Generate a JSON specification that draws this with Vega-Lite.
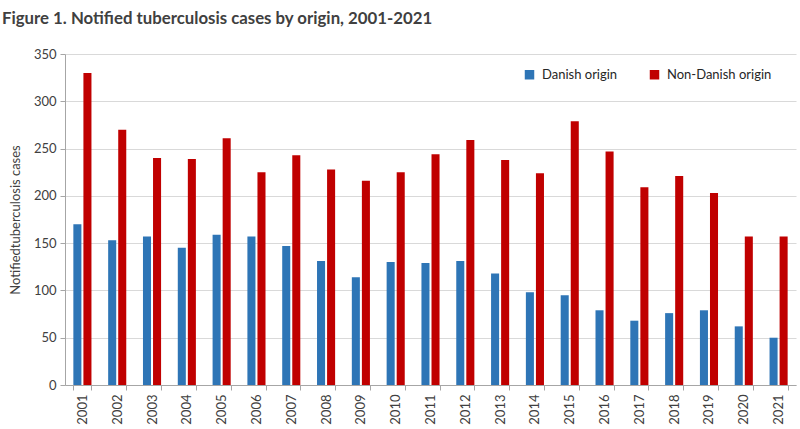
{
  "$schema": "https://vega.github.io/schema/vega-lite/v6.json",
  "width": 731,
  "height": 331,
  "autosize": {"type": "none"},
  "padding": {"left": 65, "top": 54, "right": 4, "bottom": 44},
  "background": "white",
  "config": {
    "font": "Lato",
    "view": {"stroke": null},
    "axis": {
      "labelColor": "#404040",
      "titleColor": "#404040",
      "domainColor": "#a6a6a6",
      "tickColor": "#a6a6a6",
      "gridColor": "#d9d9d9",
      "labelFontSize": 13,
      "titleFontSize": 13,
      "titleFontWeight": "normal"
    }
  },
  "title": {
    "text": "Figure 1. Notified tuberculosis cases by origin, 2001-2021",
    "anchor": "start",
    "frame": "group",
    "dx": -63,
    "offset": 20,
    "fontSize": 16.8,
    "fontWeight": "bold",
    "color": "#404040"
  },
  "data": {
    "values": [
      {"year": "2001", "origin": "Danish origin", "cases": 170},
      {"year": "2001", "origin": "Non-Danish origin", "cases": 330},
      {"year": "2002", "origin": "Danish origin", "cases": 153},
      {"year": "2002", "origin": "Non-Danish origin", "cases": 270},
      {"year": "2003", "origin": "Danish origin", "cases": 157},
      {"year": "2003", "origin": "Non-Danish origin", "cases": 240},
      {"year": "2004", "origin": "Danish origin", "cases": 145},
      {"year": "2004", "origin": "Non-Danish origin", "cases": 239},
      {"year": "2005", "origin": "Danish origin", "cases": 159},
      {"year": "2005", "origin": "Non-Danish origin", "cases": 261},
      {"year": "2006", "origin": "Danish origin", "cases": 157},
      {"year": "2006", "origin": "Non-Danish origin", "cases": 225},
      {"year": "2007", "origin": "Danish origin", "cases": 147},
      {"year": "2007", "origin": "Non-Danish origin", "cases": 243},
      {"year": "2008", "origin": "Danish origin", "cases": 131},
      {"year": "2008", "origin": "Non-Danish origin", "cases": 228},
      {"year": "2009", "origin": "Danish origin", "cases": 114},
      {"year": "2009", "origin": "Non-Danish origin", "cases": 216},
      {"year": "2010", "origin": "Danish origin", "cases": 130},
      {"year": "2010", "origin": "Non-Danish origin", "cases": 225},
      {"year": "2011", "origin": "Danish origin", "cases": 129},
      {"year": "2011", "origin": "Non-Danish origin", "cases": 244},
      {"year": "2012", "origin": "Danish origin", "cases": 131},
      {"year": "2012", "origin": "Non-Danish origin", "cases": 259},
      {"year": "2013", "origin": "Danish origin", "cases": 118},
      {"year": "2013", "origin": "Non-Danish origin", "cases": 238},
      {"year": "2014", "origin": "Danish origin", "cases": 98},
      {"year": "2014", "origin": "Non-Danish origin", "cases": 224},
      {"year": "2015", "origin": "Danish origin", "cases": 95},
      {"year": "2015", "origin": "Non-Danish origin", "cases": 279},
      {"year": "2016", "origin": "Danish origin", "cases": 79},
      {"year": "2016", "origin": "Non-Danish origin", "cases": 247},
      {"year": "2017", "origin": "Danish origin", "cases": 68},
      {"year": "2017", "origin": "Non-Danish origin", "cases": 209},
      {"year": "2018", "origin": "Danish origin", "cases": 76},
      {"year": "2018", "origin": "Non-Danish origin", "cases": 221},
      {"year": "2019", "origin": "Danish origin", "cases": 79},
      {"year": "2019", "origin": "Non-Danish origin", "cases": 203},
      {"year": "2020", "origin": "Danish origin", "cases": 62},
      {"year": "2020", "origin": "Non-Danish origin", "cases": 157},
      {"year": "2021", "origin": "Danish origin", "cases": 50},
      {"year": "2021", "origin": "Non-Danish origin", "cases": 157}
    ]
  },
  "mark": {"type": "bar"},
  "encoding": {
    "x": {
      "field": "year",
      "type": "nominal",
      "scale": {"paddingInner": 0.48, "paddingOuter": 0.24},
      "axis": {
        "title": null,
        "labelAngle": 270,
        "tickBand": "extent",
        "ticks": true,
        "tickSize": 5,
        "labelPadding": 4,
        "grid": false
      }
    },
    "xOffset": {
      "field": "origin",
      "type": "nominal",
      "scale": {"paddingInner": 0.2, "paddingOuter": 0}
    },
    "y": {
      "field": "cases",
      "type": "quantitative",
      "scale": {"domain": [0, 350], "nice": false},
      "axis": {
        "title": "Notifiedtuberculosis cases",
        "values": [0, 50, 100, 150, 200, 250, 300, 350],
        "tickSize": 5,
        "labelPadding": 4,
        "titlePadding": 11,
        "grid": true
      }
    },
    "color": {
      "field": "origin",
      "type": "nominal",
      "scale": {"domain": ["Danish origin", "Non-Danish origin"], "range": ["#2E75B6", "#C00000"]},
      "legend": {
        "title": null,
        "orient": "none",
        "legendX": 458,
        "legendY": 14,
        "direction": "horizontal",
        "symbolType": "square",
        "symbolSize": 90,
        "symbolStrokeWidth": 0,
        "labelFontSize": 13,
        "labelColor": "#262626",
        "columnPadding": 30,
        "labelOffset": 6
      }
    }
  }
}
